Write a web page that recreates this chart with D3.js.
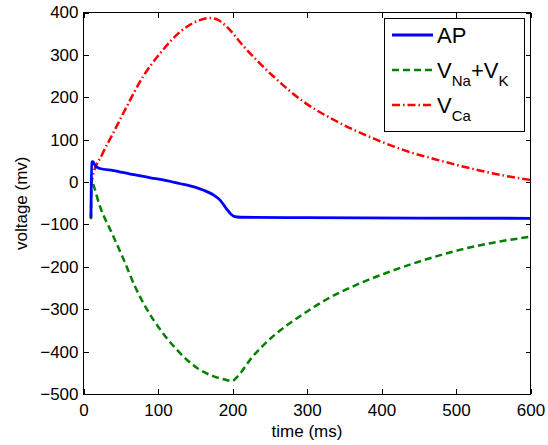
<!DOCTYPE html>
<html>
<head>
<meta charset="UTF-8">
<script src="https://d3js.org/d3.v7.min.js"></script>
<style>
  body { margin: 0; background: #fff; }
  text { font-family: "Liberation Sans", Arial, Helvetica, sans-serif; fill: #000; }
</style>
</head>
<body>
<svg id="chart" width="548" height="445"></svg>
<script>
// values
const apTime = [10, 11, 12.5, 16, 22, 40, 63, 90, 107, 130, 143, 165, 175, 183, 192, 198, 202, 210, 300, 450, 600];
const apVolt = [-85, 47, 48, 38, 32, 27, 19, 10, 5, -4, -9, -22, -31, -42, -63, -76, -81, -83, -84, -85, -85.5];

const naTime = [10, 11, 13, 22, 38, 54, 69, 85, 103, 125, 152, 174, 192, 199, 205, 226, 255, 291, 326, 367, 407, 450, 505, 550, 600];
const naVolt = [-88, 5, -5, -57, -120, -183, -246, -300, -348, -395, -438, -458, -467, -470, -462, -414, -363, -316, -277, -242, -214, -188, -160, -143, -129];

const caTime = [10, 12, 25, 40, 58, 80, 103, 130, 156, 170, 180, 192, 215, 255, 295, 340, 389, 434, 480, 530, 565, 600];
const caVolt = [-8, 10, 65, 116, 178, 249, 304, 355, 382, 387, 383, 367, 320, 249, 190, 143, 103, 73, 50, 28, 15, 5];

const xTicks = [0, 100, 200, 300, 400, 500, 600];
const yTicks = [-500, -400, -300, -200, -100, 0, 100, 200, 300, 400];

const svg = d3.select("#chart");
const margin = { top: 12.5, right: 17.5, bottom: 51, left: 83.5 };
const W = 548, H = 445;

const x = d3.scaleLinear().domain([0, 600]).range([margin.left, W - margin.right]);
const y = d3.scaleLinear().domain([-500, 400]).range([H - margin.bottom, margin.top]);

const fmt = d => d < 0 ? "\u2212" + Math.abs(d) : String(d);

// ticks on all four sides, pointing inward
function styleAxis(g) {
  g.select(".domain").remove();
  g.selectAll(".tick line").attr("stroke", "#000").attr("shape-rendering", "crispEdges");
  g.selectAll("text").style("font-size", "17px").attr("fill", "#000");
}
svg.append("g").attr("transform", `translate(0,${y(-500)})`)
  .call(d3.axisBottom(x).tickValues(xTicks).tickFormat(fmt).tickSize(-5).tickPadding(10))
  .call(styleAxis);
svg.append("g").attr("transform", `translate(0,${y(400)})`)
  .call(d3.axisTop(x).tickValues(xTicks).tickFormat("").tickSize(-5))
  .call(styleAxis);
svg.append("g").attr("transform", `translate(${x(0)},0)`)
  .call(d3.axisLeft(y).tickValues(yTicks).tickFormat(fmt).tickSize(-5).tickPadding(5))
  .call(styleAxis);
svg.append("g").attr("transform", `translate(${x(600)},0)`)
  .call(d3.axisRight(y).tickValues(yTicks).tickFormat("").tickSize(-5))
  .call(styleAxis);

// curves
const line = d3.line().x(d => x(d[0])).y(d => y(d[1])).curve(d3.curveMonotoneX);
const series = [
  { name: "AP", t: apTime, v: apVolt, color: "#0000ff", width: 2.8, dash: null },
  { name: "NaK", t: naTime, v: naVolt, color: "#008000", width: 2.5, dash: "7,4" },
  { name: "Ca", t: caTime, v: caVolt, color: "#ff0000", width: 2.5, dash: "8,3,1.5,3" }
];
const plot = svg.append("g");
[series[2], series[1], series[0]].forEach(s => {
  plot.append("path")
    .datum(d3.zip(s.t, s.v))
    .attr("fill", "none")
    .attr("stroke", s.color)
    .attr("stroke-width", s.width)
    .attr("stroke-dasharray", s.dash)
    .attr("d", line);
});

// frame
svg.append("rect")
  .attr("x", x(0)).attr("y", y(400))
  .attr("width", x(600) - x(0)).attr("height", y(-500) - y(400))
  .attr("fill", "none").attr("stroke", "#000").attr("stroke-width", 1)
  .attr("shape-rendering", "crispEdges");

// axis labels
svg.append("text")
  .attr("x", (x(0) + x(600)) / 2).attr("y", 437)
  .attr("text-anchor", "middle").style("font-size", "17px")
  .text("time (ms)");
svg.append("text")
  .attr("transform", `translate(27,${(y(400) + y(-500)) / 2}) rotate(-90)`)
  .attr("text-anchor", "middle").style("font-size", "17px")
  .text("voltage (mv)");

// legend
const lg = svg.append("g");
lg.append("rect")
  .attr("x", 384.5).attr("y", 18.5).attr("width", 139.5).attr("height", 112.5)
  .attr("fill", "#fff").attr("stroke", "#000").attr("stroke-width", 1)
  .attr("shape-rendering", "crispEdges");
const rowY = [35, 70, 105];
series.forEach((s, i) => {
  lg.append("line")
    .attr("x1", 392).attr("x2", 433).attr("y1", rowY[i]).attr("y2", rowY[i])
    .attr("stroke", s.color).attr("stroke-width", s.width)
    .attr("stroke-dasharray", s.dash);
});
const big = "22px", small = "15px";
lg.append("text").attr("x", 437).attr("y", rowY[0] + 8).style("font-size", big).text("AP");
const t2 = lg.append("text").attr("x", 437).attr("y", rowY[1] + 8).style("font-size", big);
t2.append("tspan").text("V");
t2.append("tspan").attr("dy", 8).style("font-size", small).text("Na");
t2.append("tspan").attr("dy", -8).text("+V");
t2.append("tspan").attr("dy", 8).style("font-size", small).text("K");
const t3 = lg.append("text").attr("x", 437).attr("y", rowY[2] + 8).style("font-size", big);
t3.append("tspan").text("V");
t3.append("tspan").attr("dy", 8).style("font-size", small).text("Ca");
</script>
</body>
</html>
